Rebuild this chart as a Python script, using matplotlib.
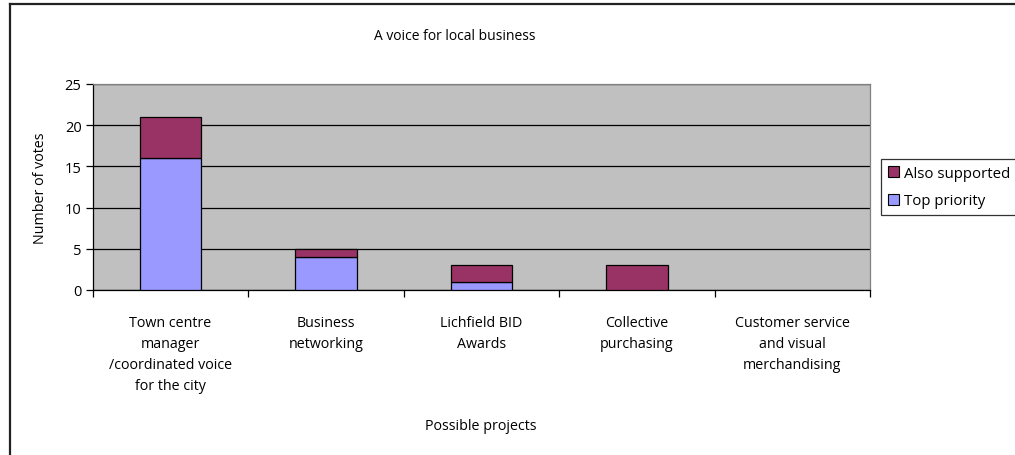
import matplotlib
matplotlib.use("Agg")
import matplotlib.pyplot as plt
import numpy as np
from matplotlib.lines import Line2D
from matplotlib.patches import Patch

categories = [
    "Town centre\nmanager\n/coordinated voice\nfor the city",
    "Business\nnetworking",
    "Lichfield BID\nAwards",
    "Collective\npurchasing",
    "Customer service\nand visual\nmerchandising",
]
top_priority = [16, 4, 1, 0, 0]
also_supported = [5, 1, 2, 3, 0]
y_ticks = [0, 5, 10, 15, 20, 25]

TOP_COL = "#9999FF"
ALSO_COL = "#993366"

plt.rcParams["font.family"] = ["Open Sans", "DejaVu Sans"]

W, H = 1015, 456
fig = plt.figure(figsize=(W / 100, H / 100), dpi=100)
fig.patch.set_facecolor("white")

ax = fig.add_axes([92.7 / W, 1 - 291 / H, (870 - 92.7) / W, (291 - 85) / H])
ax.set_facecolor("#C0C0C0")

x = np.arange(len(categories))
top = np.array(top_priority, dtype=float)
also = np.array(also_supported, dtype=float)
bw = 0.395
m1 = top > 0
m2 = also > 0
ax.bar(x[m1], top[m1], bw, color=TOP_COL, edgecolor="black", linewidth=0.9, zorder=3)
ax.bar(x[m2], also[m2], bw, bottom=top[m2], color=ALSO_COL, edgecolor="black", linewidth=0.9, zorder=3)

ax.set_xlim(-0.5, len(categories) - 0.5)
ax.set_ylim(0, 25)
ax.set_yticks(y_ticks)
ax.yaxis.grid(True, color="black", linewidth=0.9, zorder=1)
ax.set_axisbelow(True)
for s in ["top", "right"]:
    ax.spines[s].set_color("#808080")
    ax.spines[s].set_linewidth(0.9)
ax.spines["left"].set_linewidth(0.9)
ax.spines["bottom"].set_linewidth(0.9)

ax.set_xticks(np.arange(-0.5, len(categories), 1.0))
ax.set_xticklabels([])
ax.tick_params(axis="x", length=5, direction="out", width=0.9, color="black")
ax.tick_params(axis="y", length=5, direction="out", width=0.9, labelsize=10.5, pad=3)
for i, lab in enumerate(categories):
    ax.text(i, -0.12, lab, transform=ax.get_xaxis_transform(), ha="center", va="top",
            fontsize=10.3, linespacing=1.55)

ax.set_ylabel("Number of votes", fontsize=10.3, labelpad=12)

fig.text(455 / W, 1 - 36 / H, "A voice for local business", ha="center", va="center", fontsize=10)
fig.text(481 / W, 1 - 427 / H, "Possible projects", ha="center", va="center", fontsize=10.3)

handles = [Patch(facecolor=ALSO_COL, edgecolor="black", linewidth=0.8),
           Patch(facecolor=TOP_COL, edgecolor="black", linewidth=0.8)]
leg = fig.legend(handles, ["Also supported", "Top priority"], loc="upper left",
                 bbox_to_anchor=(881 / W, 1 - 160 / H), frameon=True, fontsize=10.8,
                 handlelength=0.75, handleheight=0.75, handletextpad=0.35,
                 borderaxespad=0, fancybox=False, borderpad=0.45, labelspacing=0.85)
leg.get_frame().set_edgecolor("black")
leg.get_frame().set_linewidth(0.9)

# chart area border (only top and left visible)
fig.add_artist(Line2D([10 / W, 1], [1 - 5 / H, 1 - 5 / H], color="#222222", linewidth=1.6, transform=fig.transFigure))
fig.add_artist(Line2D([10 / W, 10 / W], [1 - 5 / H, 0], color="#222222", linewidth=1.6, transform=fig.transFigure))

fig.savefig("out.png", dpi=100)
